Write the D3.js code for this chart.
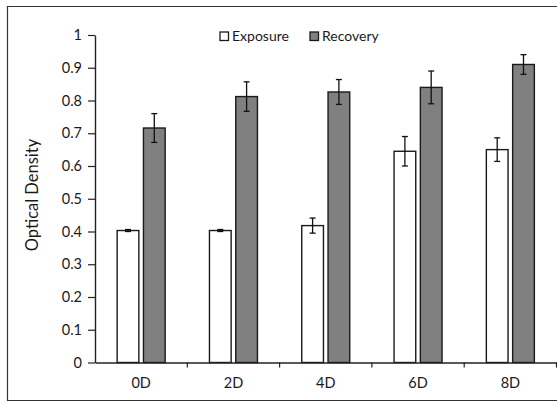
<!DOCTYPE html>
<html><head><meta charset="utf-8">
<script src="https://cdn.jsdelivr.net/npm/d3@7"></script>
<style>body{margin:0;background:#fff;} svg{display:block;}</style>
</head><body>
<script>
const categories = ["0D","2D","4D","6D","8D"];
const seriesNames = ["Exposure","Recovery"];
const exposure = [0.403, 0.403, 0.418, 0.645, 0.650];
const exposureErr = [0.003, 0.003, 0.023, 0.045, 0.036];
const recovery = [0.716, 0.812, 0.826, 0.840, 0.910];
const recoveryErr = [0.044, 0.045, 0.038, 0.050, 0.030];
const yTicks = [0,0.1,0.2,0.3,0.4,0.5,0.6,0.7,0.8,0.9,1];
const colors = ["#ffffff","#808080"];

(function(){
const W=557,H=402;
const font = "Lato, 'Open Sans', sans-serif";
const svg = d3.select("body").append("svg").attr("width",W).attr("height",H);
// frame
svg.append("path").attr("d","M"+(W+5)+",6.5H7.5V400.5H"+(W+5)).attr("fill","none").attr("stroke","#333").attr("stroke-width",1.2);

const mLeft=95, mRight=556.5, mTop=35, mBottom=362.5;
const x = d3.scaleBand().domain(categories).range([mLeft,mRight]).padding(0);
const x1 = d3.scaleBand().domain(seriesNames).range([x.bandwidth()*0.24, x.bandwidth()*0.76]).paddingInner(0.175);
const y = d3.scaleLinear().domain([0,1]).range([mBottom,mTop]);

const data = categories.map((c,i)=>({c, vals:[{s:"Exposure",v:exposure[i],e:exposureErr[i]},{s:"Recovery",v:recovery[i],e:recoveryErr[i]}]}));

const g = svg.append("g");
const grp = g.selectAll("g.cat").data(data).enter().append("g").attr("transform",d=>`translate(${x(d.c)},0)`);
grp.selectAll("rect").data(d=>d.vals).enter().append("rect")
  .attr("x",d=>x1(d.s)).attr("width",x1.bandwidth())
  .attr("y",d=>y(d.v)).attr("height",d=>y(0)-y(d.v))
  .attr("fill",(d,i)=>colors[i]).attr("stroke","#1a1a1a").attr("stroke-width",1.4);
// error bars
const eb = grp.selectAll("g.err").data(d=>d.vals).enter().append("g");
eb.append("line").attr("x1",d=>x1(d.s)+x1.bandwidth()/2).attr("x2",d=>x1(d.s)+x1.bandwidth()/2)
  .attr("y1",d=>y(d.v+d.e)).attr("y2",d=>y(d.v-d.e)).attr("stroke","#111").attr("stroke-width",1.3);
["+","-"].forEach(sgn=>{
  eb.append("line").attr("x1",d=>x1(d.s)+x1.bandwidth()/2-3).attr("x2",d=>x1(d.s)+x1.bandwidth()/2+3)
    .attr("y1",d=>y(sgn==="+"?d.v+d.e:d.v-d.e)).attr("y2",d=>y(sgn==="+"?d.v+d.e:d.v-d.e))
    .attr("stroke","#111").attr("stroke-width",1.3);
});

// y axis
const ya = svg.append("g").attr("transform",`translate(${mLeft},0)`)
  .call(d3.axisLeft(y).tickValues(yTicks).tickFormat(d=>d3.format("~g")(d)).tickSize(7).tickSizeOuter(0).tickPadding(6));
ya.select(".domain").attr("stroke","#222").attr("stroke-width",1.4);
ya.selectAll(".tick line").attr("stroke","#222").attr("stroke-width",1.2);
ya.selectAll("text").attr("font-family",font).attr("font-size",14.5).attr("fill","#1a1a1a");

// x axis
const xa = svg.append("g").attr("transform",`translate(0,${mBottom})`)
  .call(d3.axisBottom(x).tickSize(0).tickPadding(15));
xa.select(".domain").attr("stroke","#222").attr("stroke-width",1.4);
xa.selectAll("text").attr("font-family",font).attr("font-size",14.5).attr("fill","#1a1a1a");
const bounds = categories.slice(1).map(c=>x(c)).concat([mRight]);
xa.selectAll("line.bt").data(bounds).enter().append("line").attr("class","bt")
  .attr("x1",d=>d).attr("x2",d=>d).attr("y1",0).attr("y2",5).attr("stroke","#222").attr("stroke-width",1.2);

// y title
svg.append("text").attr("transform","translate(38,195) rotate(-90)").attr("text-anchor","middle")
  .attr("font-family",font).attr("font-size",16.5).attr("fill","#1a1a1a").text("Optical Density");

// legend
const lg = svg.append("g").attr("transform","translate(220,32)");
const items = [{n:seriesNames[0],c:colors[0],x:0},{n:seriesNames[1],c:colors[1],x:90}];
items.forEach(it=>{
  lg.append("rect").attr("x",it.x).attr("y",0).attr("width",8.5).attr("height",8.5).attr("fill",it.c).attr("stroke","#1a1a1a").attr("stroke-width",1.3);
  lg.append("text").attr("x",it.x+12).attr("y",9).attr("font-family",font).attr("font-size",14).attr("fill","#1a1a1a").text(it.n);
});
})();
</script>
</body></html>
